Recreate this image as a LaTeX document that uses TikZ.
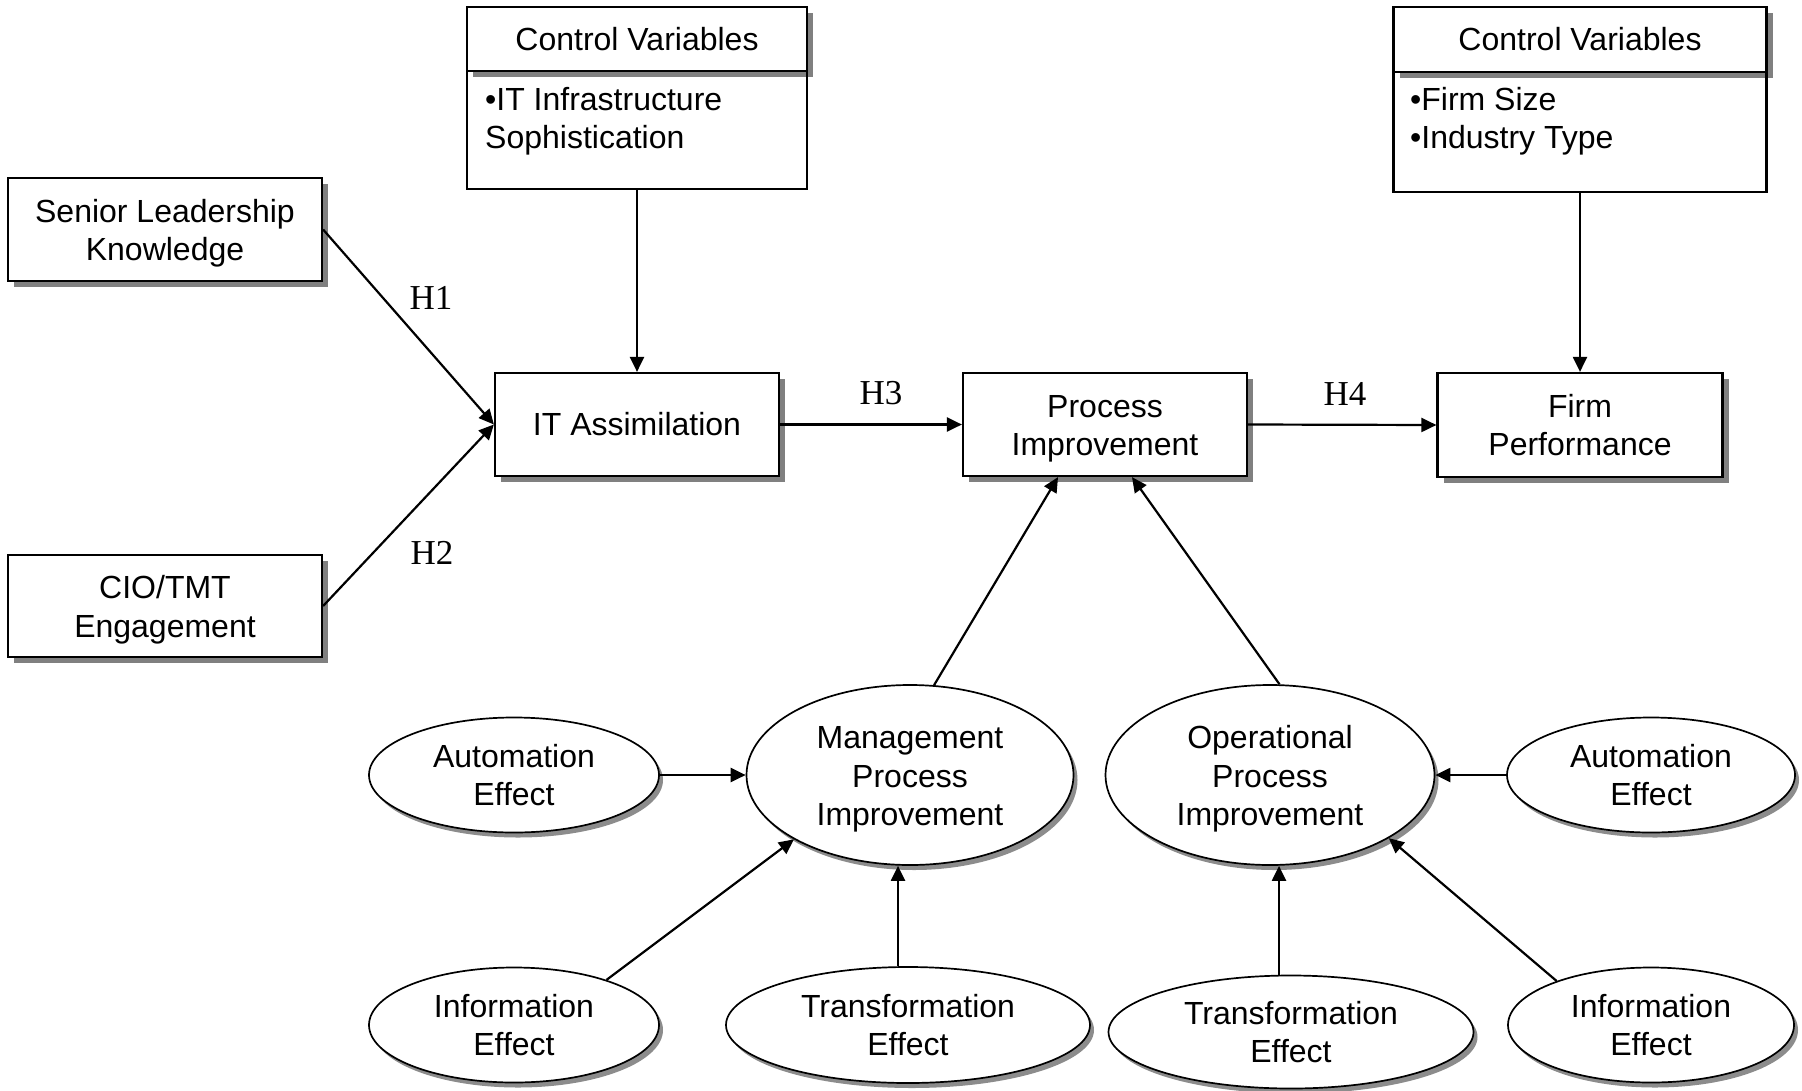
\documentclass[tikz,border=0pt]{standalone}
\usepackage{fontspec}
\setmainfont{Liberation Sans}
\newfontfamily\hfont{Liberation Serif}
\usetikzlibrary{shapes.geometric,arrows.meta,shadows}
\newcommand{\lowr}{\rule{0pt}{31pt}}

\begin{document}
\begin{tikzpicture}[x=1pt,y=-1pt,
  txt/.style={font=\fontsize{32}{38.5}\selectfont},
  box/.style={txt, rectangle, draw=black, line width=2.2pt, fill=white, inner sep=0pt, align=center,
    drop shadow={shadow xshift=6pt, shadow yshift=-6pt, fill=black!50, opacity=1}},
  cvbody/.style={rectangle, draw=black, line width=2.2pt, inner sep=0pt},
  listtext/.style={txt, inner sep=0pt, align=left},
  effect/.style={txt, ellipse, draw=black, line width=1.7pt, fill=white, inner sep=0pt, align=center,
    drop shadow={shadow xshift=4pt, shadow yshift=-5pt, fill=black!45, opacity=1}},
  arr/.style={line width=2.2pt, -{Triangle[length=15pt,width=14pt]}},
  hlab/.style={font=\hfont\fontsize{35}{40}\selectfont, inner sep=0pt}]

\useasboundingbox (0,0) rectangle (1802,1090);

% left boxes
\node[box, minimum width=314pt, minimum height=103pt] (slk) at (165,229.5) {\lowr Senior Leadership\\Knowledge};
\node[box, minimum width=314pt, minimum height=102pt] (cio) at (165,606) {\lowr CIO/TMT\\Engagement};

% control variables 1
\node[box, minimum width=340pt, minimum height=64pt] (cv1h) at (637,39) {Control Variables};
\node[cvbody, minimum width=340pt, minimum height=118pt] (cv1b) at (637,130) {};
\node[listtext, anchor=north west] (cv1t) at (485,87) {•IT Infrastructure\\Sophistication};

% control variables 2
\node[box, minimum width=373pt, minimum height=65pt] (cv2h) at (1580,39.5) {Control Variables};
\node[cvbody, minimum width=373pt, minimum height=120pt] (cv2b) at (1580,132) {};
\node[listtext, anchor=north west] (cv2t) at (1410,87) {•Firm Size\\•Industry Type};

% main row
\node[box, minimum width=284pt, minimum height=103pt] (ita) at (637,424.5) {IT Assimilation};
\node[box, minimum width=284pt, minimum height=103pt] (pi) at (1105,424.5) {\lowr Process\\Improvement};
\node[box, minimum width=285pt, minimum height=104pt] (fp) at (1580,425) {Firm\\Performance};

% ellipses
\node[effect, minimum width=290pt, minimum height=115pt] (ae1) at (514,775) {Automation\\Effect};
\node[effect, minimum width=327pt, minimum height=180pt] (mpi) at (910,775) {\lowr Management\\Process\\Improvement};
\node[effect, minimum width=290pt, minimum height=115pt] (ie1) at (514,1025) {Information\\Effect};
\node[effect, minimum width=364pt, minimum height=116pt] (te1) at (908,1025) {Transformation\\Effect};
\node[effect, minimum width=329pt, minimum height=180pt] (opi) at (1270,775) {\lowr Operational\\Process\\Improvement};
\node[effect, minimum width=288pt, minimum height=115pt] (ae2) at (1651,775) {Automation\\Effect};
\node[effect, minimum width=365pt, minimum height=113pt] (te2) at (1291,1032) {Transformation\\Effect};
\node[effect, minimum width=286pt, minimum height=115pt] (ie2) at (1651,1025) {Information\\Effect};

% hypothesis labels
\node[hlab] (h1) at (431,298) {H1};
\node[hlab] (h2) at (432,553) {H2};
\node[hlab] (h3) at (881,393) {H3};
\node[hlab] (h4) at (1345,394) {H4};

% connectors
\draw[arr] (slk.east) -- (ita.west);
\draw[arr] (cio.east) -- (ita.west);
\draw[arr] (cv1b.south) -- (ita.north);
\draw[arr] (ita.east) -- (pi.west);
\draw[arr] (pi.east) -- (fp.west);
\draw[arr] (cv2b.south) -- (fp.north);
\draw[arr] (mpi.75.5) -- ([xshift=-47pt]pi.south);
\draw[arr] (opi.84.5) -- ([xshift=27pt]pi.south);
\draw[arr] (ae1.east) -- (mpi.west);
\draw[arr] (ie1.26) -- (mpi.209.6);
\draw[arr] ([xshift=-10pt]te1.north) -- ([xshift=-10pt]te1.north |- mpi.south);
\draw[arr] (ae2.west) -- (opi.east);
\draw[arr] ([xshift=-12pt]te2.north) -- ([xshift=-12pt]te2.north |- opi.south);
\draw[arr] (ie2.155.5) -- (opi.332.1);

\end{tikzpicture}
\end{document}
